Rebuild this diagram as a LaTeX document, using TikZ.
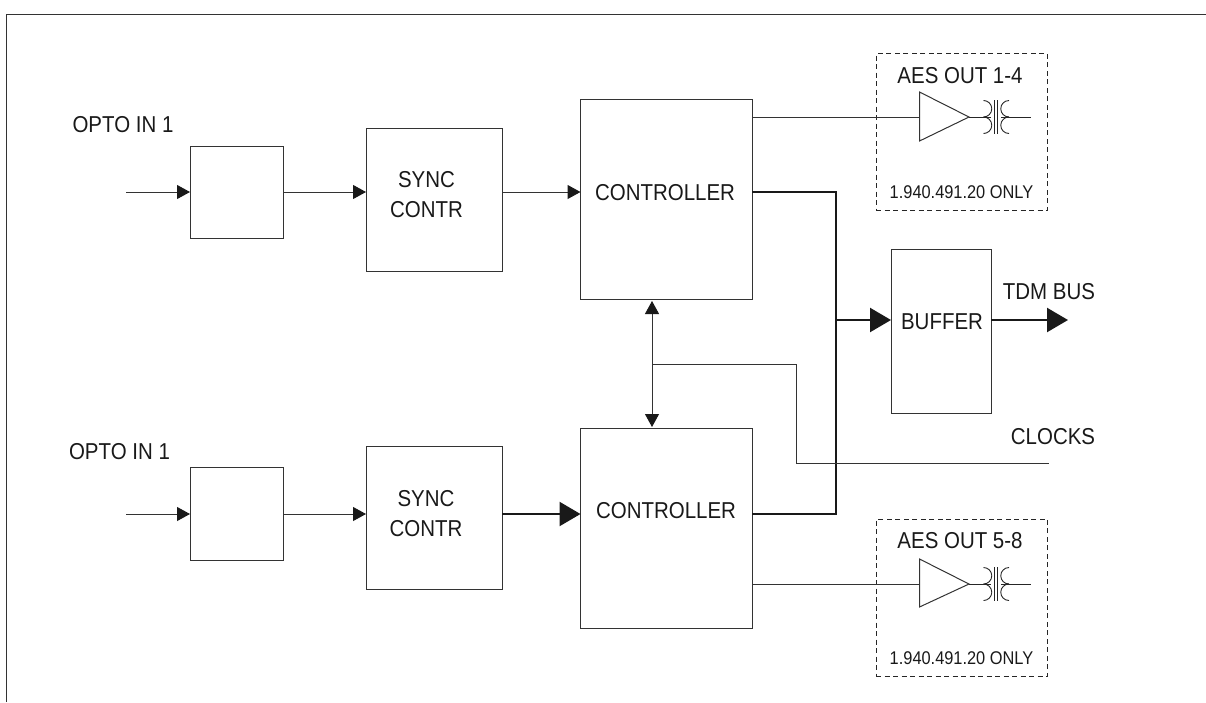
\documentclass[tikz,border=0pt]{standalone}
\usepackage{fontspec}
\setmainfont[FakeStretch=0.89]{Liberation Sans}
\usetikzlibrary{arrows.meta}
\tikzset{
 blockbox/.style={draw=black!80,line width=1pt,anchor=north west,inner sep=0pt,outer sep=0pt},
 frameline/.style={draw=black!80,line width=1.2pt},
 dashbox/.style={draw=black!85,line width=0.9pt,dash pattern=on 5pt off 3.5pt,anchor=north west,inner sep=0pt,outer sep=0pt},
 thin line/.style={draw=black!80,line width=1pt},
 thick line/.style={draw=black!90,line width=2.3pt},
 smallarrow/.style={thin line,-{Triangle[length=13pt,width=14pt,black!90]}},
 bigarrow/.style={thick line,-{Triangle[length=21pt,width=24pt,black!90]}},
 dblarrow/.style={thin line,{Triangle[length=13pt,width=14pt,black!90]}-{Triangle[length=13pt,width=14pt,black!90]}},
 lab/.style={font=\fontsize{23}{30}\selectfont,align=center,inner sep=0pt,text=black!90},
 smalllab/.style={font=\fontsize{18.4}{20}\selectfont,inner sep=0pt,text=black!90},
 ampl/.style={draw=black!80,line width=1pt,line join=miter},
}
\newcommand{\xfmr}[1]{%
 \begin{scope}[shift={(#1)},line width=0.9pt,black!85]
  \draw (0,0) -- (22,0);
  \draw (14.5,-16.5) arc[start angle=-90,end angle=90,radius=8.25];
  \draw (14.5,0) arc[start angle=-90,end angle=90,radius=8.25];
  \draw (40,-16.5) arc[start angle=-90,end angle=-270,radius=8.25];
  \draw (40,0) arc[start angle=-90,end angle=-270,radius=8.25];
  \draw (25.5,-17) -- (25.5,17);
  \draw (28.5,-17) -- (28.5,17);
  \draw (32,0) -- (62,0);
 \end{scope}}
\begin{document}
\begin{tikzpicture}[x=1pt,y=-1pt]
\useasboundingbox (0,0) rectangle (1206,702);
\draw[frameline] (6.5,702) -- (6.5,14.5) -- (1206,14.5);
% blocks
\node[blockbox,minimum width=93pt,minimum height=92pt] (in1) at (190,146) {};
\node[blockbox,minimum width=136pt,minimum height=143pt] (sy1) at (366,128) {};
\node[blockbox,minimum width=171.5pt,minimum height=200.5pt] (ct1) at (580.5,99) {};
\node[blockbox,minimum width=93pt,minimum height=93pt] (in2) at (190,467) {};
\node[blockbox,minimum width=136pt,minimum height=143pt] (sy2) at (366,446) {};
\node[blockbox,minimum width=171.5pt,minimum height=200.5pt] (ct2) at (580.5,428) {};
\node[blockbox,minimum width=100pt,minimum height=164pt] (bf) at (891,249) {};
\node[dashbox,minimum width=171.5pt,minimum height=156.5pt] (d1) at (876,53.5) {};
\node[dashbox,minimum width=171.5pt,minimum height=157pt] (d2) at (876,519) {};
% labels
\node[lab] (s1) at (426.5,195) {SYNC\\CONTR};
\node[lab] (s2) at (426,514) {SYNC\\CONTR};
\node[lab] (c1) at (665,193) {CONTROLLER};
\node[lab] (c2) at (666,511) {CONTROLLER};
\node[lab] (b1) at (942,322) {BUFFER};
\node[lab] (t1) at (123,125) {OPTO IN 1};
\node[lab] (t2) at (119.5,452) {OPTO IN 1};
\node[lab] (t3) at (960,76) {AES OUT 1-4};
\node[lab] (t4) at (960,541) {AES OUT 5-8};
\node[smalllab] (t5) at (961.5,192) {1.940.491.20 ONLY};
\node[smalllab] (t6) at (961.5,658) {1.940.491.20 ONLY};
\node[lab] (t7) at (1049,292) {TDM BUS};
\node[lab] (t8) at (1053,437) {CLOCKS};
% amplifiers
\draw[ampl] (919.5,92) coordinate (a1) -- (919.5,141) -- (969,117) coordinate (a1t) -- cycle;
\draw[ampl] (919.5,559) coordinate (a2) -- (919.5,607) -- (969,584) coordinate (a2t) -- cycle;
\xfmr{a1t}
\xfmr{a2t}
% coordinates
\coordinate (i1) at (126,192);
\coordinate (i2) at (126,514);
\coordinate (tdm) at (1068,320);
\coordinate (clk) at (1049,463);
\coordinate (c1s) at (652,301);
\coordinate (c2n) at (652,427);
\coordinate (jn) at (836,320);
\coordinate (br) at (652,364);
\coordinate (ck) at (796,463);
\coordinate (ty) at (0,192);
\coordinate (by) at (0,514);
% connectors
\draw[smallarrow] (i1) -- (in1.west |- i1);
\draw[smallarrow] (in1.east |- i1) -- (sy1.west |- i1);
\draw[smallarrow] (sy1.east |- i1) -- (ct1.west |- i1);
\draw[smallarrow] (i2) -- (in2.west |- i2);
\draw[smallarrow] (in2.east |- i2) -- (sy2.west |- i2);
\draw[bigarrow] (sy2.east |- i2) -- (ct2.west |- i2);
\draw[thin line] (ct1.east |- a1t) -- (a1 |- a1t);
\draw[thin line] (ct2.east |- a2t) -- (a2 |- a2t);
\draw[thick line] (ct1.east |- ty) -| (jn);
\draw[thick line] (ct2.east |- by) -| (jn);
\draw[bigarrow] (jn) -- (bf.west |- jn);
\draw[bigarrow] (bf.east |- tdm) -- (tdm);
\draw[dblarrow] (c1s) -- (c2n);
\draw[thin line] (br) -| (ck) -- (clk);
\end{tikzpicture}
\end{document}
